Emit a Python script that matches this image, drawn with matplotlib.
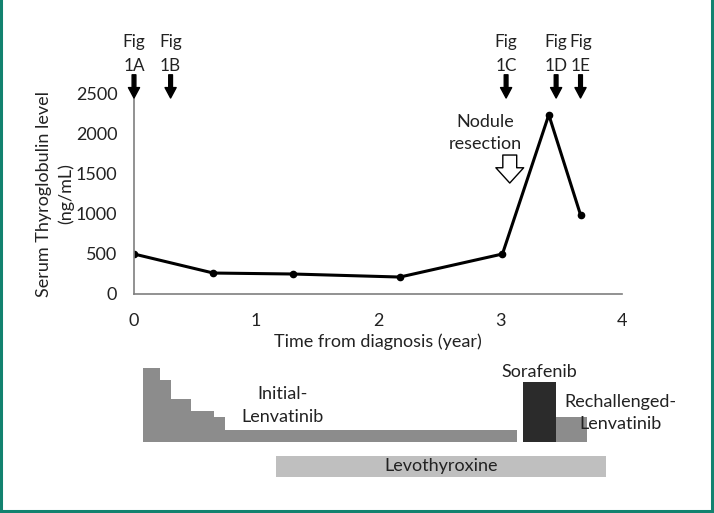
import matplotlib
matplotlib.use("Agg")
import matplotlib.pyplot as plt
from matplotlib.lines import Line2D

plt.rcParams['font.family'] = ['Lato', 'DejaVu Sans']

# ---- data ----
time_years = [0.0, 0.65, 1.30, 2.18, 3.02, 3.40, 3.66]
thyroglobulin = [500, 262, 250, 212, 500, 2240, 990]

fig_labels = ["Fig\n1A", "Fig\n1B", "Fig\n1C", "Fig\n1D", "Fig\n1E"]
fig_times = [0.0, 0.30, 3.05, 3.46, 3.66]

nodule_resection_time = 3.08

x_ticks = [0, 1, 2, 3, 4]
y_ticks = [0, 500, 1000, 1500, 2000, 2500]

# treatment (dose-like heights)
lenva_starts = [0.074, 0.213, 0.303, 0.465, 0.656, 0.746]
lenva_ends = [0.213, 0.303, 0.465, 0.656, 0.746, 3.14]
lenva_dose = [24, 20, 14, 10, 8, 4]
sora_start, sora_end, sora_dose = 3.19, 3.46, 19.5
rechal_start, rechal_end, rechal_dose = 3.46, 3.71, 8
levo_start, levo_end = 1.164, 3.87

W, H = 714, 513
FS = 13
TC = '#222222'
fig = plt.figure(figsize=(W / 100, H / 100), dpi=100)

def px_axes(x0, x1, ytop, ybot):
    return fig.add_axes([x0 / W, (H - ybot) / H, (x1 - x0) / W, (ybot - ytop) / H])

ax = px_axes(134, 622, 94, 294)
ax.plot(time_years, thyroglobulin, color='black', lw=2.2, marker='o', ms=4.5,
        solid_joinstyle='miter')
ax.set_xlim(0, 4)
ax.set_ylim(0, 2500)
ax.set_xticks(x_ticks)
ax.set_yticks(y_ticks)
ax.tick_params(length=0, labelsize=FS, colors=TC)
ax.tick_params(axis='x', pad=14)
ax.tick_params(axis='y', pad=12)
for s in ['top', 'right']:
    ax.spines[s].set_visible(False)
for s in ['left', 'bottom']:
    ax.spines[s].set_color('#7f7f7f')
    ax.spines[s].set_linewidth(1.2)
ax.spines['left'].set_bounds(0, 2475)
ax.set_xlabel("Time from diagnosis (year)", fontsize=FS, color=TC, labelpad=3)
ax.set_ylabel("Serum Thyroglobulin level\n(ng/mL)", fontsize=FS, color=TC,
              labelpad=1, linespacing=1.45)

# figure arrows
for lab, t in zip(fig_labels, fig_times):
    ax.annotate("", xy=(t, 2450), xytext=(t, 2740), annotation_clip=False,
                arrowprops=dict(arrowstyle="simple,head_width=0.8,head_length=0.75,tail_width=0.27",
                                color='black', shrinkA=0, shrinkB=0, mutation_scale=10))
    ax.text(t, 3000, lab, ha='center', va='center', fontsize=12.3, color=TC,
            linespacing=1.6, clip_on=False)

# nodule resection
ax.text(nodule_resection_time - 0.2, 2010, "Nodule\nresection", ha='center', va='center',
        fontsize=FS, color=TC, linespacing=1.5)
ax.annotate("", xy=(nodule_resection_time, 1387), xytext=(nodule_resection_time, 1737),
            arrowprops=dict(arrowstyle="simple,head_width=1.0,head_length=0.55,tail_width=0.5",
                            fc='white', ec='black', lw=1.0, shrinkA=0, shrinkB=0,
                            mutation_scale=20))

# ---- treatment panel ----
ax2 = px_axes(134, 622, 355, 490)
unit = 3.1
ax2.set_xlim(0, 4)
ax2.set_ylim(-(490 - 442) / unit, (442 - 355) / unit)
ax2.axis('off')
for s0, s1, d in zip(lenva_starts, lenva_ends, lenva_dose):
    ax2.bar(s0, d, width=s1 - s0, align='edge', color='#8c8c8c', lw=0)
ax2.bar(sora_start, sora_dose, width=sora_end - sora_start, align='edge', color='#2b2b2b', lw=0)
ax2.bar(rechal_start, rechal_dose, width=rechal_end - rechal_start, align='edge',
        color='#8c8c8c', lw=0)
levo_y0 = -(477 - 442) / unit
levo_h = (477 - 456) / unit
ax2.bar(levo_start, levo_h, width=levo_end - levo_start, bottom=levo_y0, align='edge',
        color='#bfbfbf', lw=0)
ax2.text((levo_start + levo_end) / 2, levo_y0 + levo_h / 2, "Levothyroxine", ha='center',
         va='center', fontsize=FS, color=TC)
ax2.text(1.22, 11.8, "Initial-\nLenvatinib", ha='center', va='center', fontsize=FS,
         color=TC, linespacing=1.5)
ax2.text((sora_start + sora_end) / 2, 22.6, "Sorafenib", ha='center', va='center',
         fontsize=FS, color=TC)
ax2.text(3.99, 9.3, "Rechallenged-\nLenvatinib", ha='center', va='center', fontsize=FS,
         color=TC, linespacing=1.5)

# frame border
bc = '#12826f'
for xs, ys in [([0.002, 0.002], [0, 1]), ([0.997, 0.997], [0, 1]), ([0, 1], [0.003, 0.003])]:
    fig.add_artist(Line2D(xs, ys, transform=fig.transFigure, color=bc, lw=2.2))

fig.savefig("out.png", dpi=100)
